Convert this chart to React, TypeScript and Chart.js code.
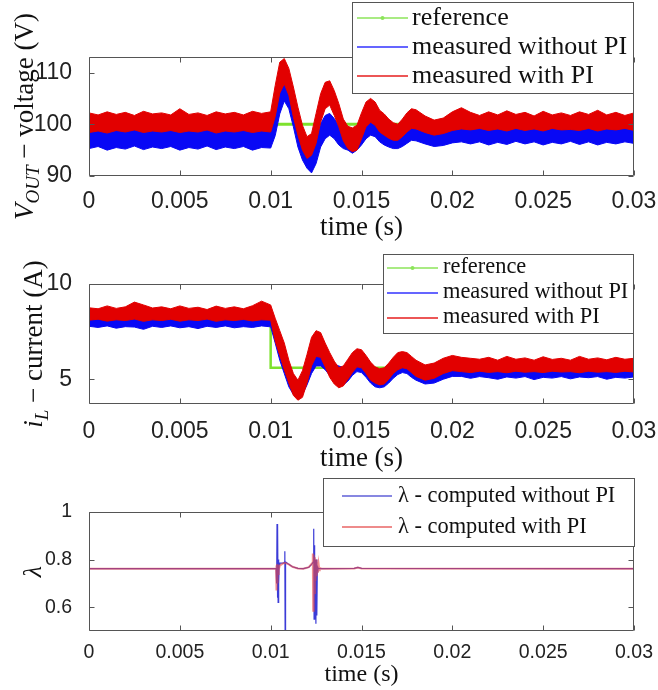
import React, { useEffect, useRef } from 'react';
import { Chart, registerables } from 'chart.js';

Chart.register(...registerables);

// ---------------- data ----------------
const T = [0, 0.0005, 0.001, 0.0015, 0.002, 0.0025, 0.003, 0.0035, 0.004, 0.0045, 0.005, 0.0055, 0.006, 0.0065, 0.007, 0.0075, 0.008, 0.0085, 0.009, 0.0095, 0.01,
  0.01025, 0.0105, 0.01075, 0.011, 0.01125, 0.0115, 0.01175, 0.012, 0.01225, 0.0125, 0.01275, 0.013, 0.01325, 0.0135, 0.01375, 0.014, 0.01425, 0.0145, 0.01475, 0.015, 0.01525, 0.0155, 0.01575, 0.016, 0.01625, 0.0165, 0.01675, 0.017, 0.01725, 0.0175, 0.01775, 0.018,
  0.0185, 0.019, 0.0195, 0.02, 0.0205, 0.021, 0.0215, 0.022, 0.0225, 0.023, 0.0235, 0.024, 0.0245, 0.025, 0.0255, 0.026, 0.0265, 0.027, 0.0275, 0.028, 0.0285, 0.029, 0.0295, 0.03];

// Output voltage (V): upper / lower envelopes of the noisy measured traces
const V_PI_HI = [102.2, 101.8, 102.4, 101.9, 102.3, 101.7, 102.5, 102.0, 102.2, 101.8, 103.0, 101.9, 102.2, 101.7, 102.4, 102.0, 102.3, 101.8, 102.5, 102.1, 102.4,
  107.5, 112.0, 112.7, 110.8, 107.2, 103.3, 99.8, 97.6, 98.2, 102.1, 105.9, 108.1, 108.4, 106.5, 104.0, 101.0, 99.6, 99.3, 99.8, 102.2, 104.3, 105.0, 104.3, 102.7, 102.0, 101.0, 100.3, 100.0, 101.0, 102.2, 103.0, 102.8,
  101.6, 100.8, 101.2, 102.4, 103.2, 102.3, 101.7, 102.4, 101.8, 102.6, 101.9, 102.3, 101.6, 102.5, 101.8, 102.2, 101.7, 102.4, 101.9, 102.7, 101.8, 102.3, 101.7, 102.2];
const V_PI_LO = [98.4, 98.7, 98.3, 98.8, 98.5, 98.9, 98.4, 98.7, 98.5, 98.8, 98.4, 98.7, 98.5, 98.9, 98.3, 98.7, 98.5, 98.8, 98.4, 98.7, 98.5,
  101.5, 106.0, 107.8, 105.6, 101.4, 97.9, 95.0, 93.4, 94.0, 96.3, 100.4, 103.0, 103.7, 101.7, 99.5, 96.8, 95.3, 94.7, 95.0, 97.2, 99.5, 100.4, 99.8, 98.5, 97.9, 97.3, 96.9, 96.9, 97.6, 98.5, 99.2, 99.1,
  98.4, 97.9, 98.2, 98.8, 99.1, 98.9, 99.2, 98.8, 99.1, 98.7, 99.2, 98.8, 99.1, 98.7, 99.2, 98.9, 99.0, 98.8, 99.2, 98.7, 99.1, 98.9, 99.2, 98.8];
const V_NOPI_HI = [99.9, 99.6, 100.1, 99.7, 100.0, 99.5, 100.2, 99.8, 100.0, 99.6, 100.1, 99.7, 100.0, 99.5, 100.2, 99.8, 100.0, 99.6, 100.1, 99.8, 100.0,
  104.5, 108.1, 108.8, 107.3, 104.6, 101.1, 98.2, 95.6, 95.0, 96.9, 100.1, 101.7, 102.1, 101.1, 99.8, 98.8, 98.2, 98.0, 98.5, 99.8, 101.1, 101.4, 101.1, 100.1, 99.5, 98.8, 98.4, 98.3, 98.8, 99.4, 99.9, 99.8,
  99.3, 98.8, 99.0, 99.6, 99.9, 99.6, 99.4, 99.8, 99.5, 99.9, 99.4, 99.7, 99.5, 99.9, 99.4, 99.8, 99.5, 99.9, 99.4, 99.8, 99.5, 99.7, 99.4, 99.8];
const V_NOPI_LO = [95.3, 95.7, 95.0, 95.5, 95.2, 95.8, 95.1, 95.6, 95.3, 95.7, 95.0, 95.5, 95.2, 95.8, 95.1, 95.6, 95.3, 95.7, 95.0, 95.5, 95.4,
  97.8, 102.0, 104.5, 103.0, 99.5, 95.6, 93.1, 91.5, 90.6, 92.4, 95.6, 97.2, 97.9, 97.2, 96.0, 95.3, 95.0, 94.4, 95.0, 96.0, 97.2, 97.9, 97.6, 96.6, 96.0, 95.6, 95.3, 95.3, 95.7, 96.3, 96.9, 96.8,
  96.2, 95.7, 95.9, 96.4, 96.6, 96.2, 96.6, 96.0, 96.5, 96.1, 96.7, 96.2, 96.6, 96.0, 96.5, 96.2, 96.7, 96.1, 96.6, 96.0, 96.5, 96.2, 96.6, 96.3];
const V_REF_T = [0, 0.03];
const V_REF = [100, 100];

// Inductor current (A)
const I_PI_HI = [8.75, 8.7, 8.85, 8.72, 8.8, 9.05, 8.9, 8.74, 8.8, 8.7, 8.85, 8.72, 8.78, 8.66, 8.84, 8.72, 8.8, 8.7, 8.86, 9.1, 8.9,
  8.2, 7.55, 6.9, 6.0, 5.3, 4.95, 5.45, 6.3, 7.2, 7.55, 7.45, 6.9, 6.4, 5.95, 5.6, 5.7, 6.05, 6.4, 6.6, 6.55, 6.25, 5.9, 5.65, 5.55, 5.6, 5.85, 6.15, 6.4, 6.45, 6.4, 6.2, 6.0,
  5.75, 5.85, 6.1, 6.25, 6.15, 6.1, 6.05, 6.15, 6.0, 6.2, 6.05, 6.12, 6.0, 6.18, 6.04, 6.1, 6.0, 6.2, 6.05, 6.12, 6.02, 6.15, 6.05, 6.1];
const I_PI_LO = [8.1, 8.15, 8.05, 8.12, 8.08, 8.16, 8.04, 8.12, 8.08, 8.15, 8.05, 8.12, 8.08, 8.16, 8.04, 8.12, 8.08, 8.14, 8.06, 8.12, 8.1,
  7.0, 6.25, 5.5, 4.8, 4.15, 3.9, 4.05, 4.8, 5.7, 6.2, 6.15, 5.65, 5.1, 4.75, 4.55, 4.65, 5.0, 5.35, 5.65, 5.6, 5.3, 4.95, 4.8, 4.7, 4.75, 5.0, 5.3, 5.5, 5.6, 5.55, 5.35, 5.15,
  4.95, 5.05, 5.3, 5.45, 5.4, 5.35, 5.42, 5.36, 5.4, 5.34, 5.42, 5.37, 5.4, 5.35, 5.42, 5.38, 5.4, 5.34, 5.42, 5.37, 5.4, 5.36, 5.42, 5.38];
const I_NOPI_HI = [8.55, 8.5, 8.58, 8.52, 8.55, 8.5, 8.58, 8.52, 8.55, 8.5, 8.58, 8.52, 8.55, 8.5, 8.58, 8.52, 8.55, 8.5, 8.58, 8.52, 8.5,
  7.9, 7.2, 6.5, 5.8, 5.2, 4.9, 5.1, 5.7, 6.4, 6.8, 6.7, 6.4, 6.1, 5.8, 5.7, 5.6, 5.8, 6.1, 6.3, 6.25, 6.0, 5.7, 5.45, 5.35, 5.4, 5.6, 5.9, 6.1, 6.15, 6.1, 5.95, 5.75,
  5.5, 5.55, 5.8, 5.95, 5.9, 5.85, 5.9, 5.85, 5.92, 5.86, 5.9, 5.84, 5.92, 5.86, 5.9, 5.85, 5.92, 5.86, 5.9, 5.84, 5.92, 5.86, 5.9, 5.86];
const I_NOPI_LO = [7.78, 7.72, 7.8, 7.68, 7.76, 7.74, 7.62, 7.78, 7.72, 7.8, 7.7, 7.76, 7.66, 7.78, 7.72, 7.8, 7.7, 7.76, 7.72, 7.8, 7.75,
  6.9, 6.0, 5.3, 4.6, 4.2, 4.0, 4.2, 4.7, 5.3, 5.7, 5.7, 5.5, 5.2, 4.9, 4.8, 4.7, 4.9, 5.2, 5.4, 5.35, 5.1, 4.8, 4.6, 4.55, 4.6, 4.8, 5.05, 5.25, 5.35, 5.3, 5.1, 4.95,
  4.75, 4.8, 5.0, 5.15, 5.15, 5.05, 5.14, 5.08, 5.0, 5.12, 5.06, 5.14, 4.98, 5.1, 5.06, 5.14, 5.02, 5.12, 5.08, 5.14, 5.0, 5.1, 5.06, 5.12];
const I_REF_T = [0, 0.01, 0.01, 0.03];
const I_REF = [8.4, 8.4, 5.6, 5.6];

// Computed lambda
const LAM_NOPI_T = [0, 0.0103, 0.01033, 0.01035, 0.01037, 0.01039, 0.01041, 0.01043, 0.01045, 0.01047, 0.0105, 0.0107, 0.01076, 0.01078, 0.0108, 0.01082, 0.0109, 0.011, 0.0112, 0.0115, 0.0118, 0.0121, 0.01226,
  0.01234, 0.01237, 0.01239, 0.01241, 0.01243, 0.01246, 0.01249, 0.01251, 0.01254, 0.01257, 0.0126, 0.0128, 0.0146, 0.0148, 0.015, 0.03];
const LAM_NOPI = [0.762, 0.762, 0.70, 0.95, 0.64, 0.95, 0.62, 0.80, 0.70, 0.78, 0.785, 0.785, 0.79, 0.835, 0.40, 0.79, 0.786, 0.78, 0.77, 0.763, 0.762, 0.768, 0.78,
  0.79, 0.93, 0.55, 0.86, 0.60, 0.80, 0.53, 0.80, 0.565, 0.77, 0.762, 0.762, 0.763, 0.767, 0.763, 0.762];
const LAM_PI_T = [0, 0.0103, 0.01031, 0.01033, 0.01035, 0.01037, 0.01039, 0.01041, 0.01043, 0.01045, 0.0105, 0.0107, 0.0108, 0.011, 0.0112, 0.0115, 0.0118, 0.0121, 0.01228,
  0.01232, 0.01234, 0.01237, 0.0124, 0.01243, 0.01246, 0.0125, 0.01253, 0.01257, 0.0126, 0.01264, 0.01268, 0.0127, 0.0128, 0.0146, 0.0148, 0.015, 0.03];
const LAM_PI = [0.762, 0.762, 0.775, 0.67, 0.78, 0.70, 0.78, 0.74, 0.775, 0.755, 0.775, 0.785, 0.786, 0.78, 0.77, 0.763, 0.762, 0.768, 0.785,
  0.826, 0.585, 0.82, 0.66, 0.81, 0.71, 0.80, 0.73, 0.79, 0.745, 0.78, 0.755, 0.765, 0.762, 0.763, 0.767, 0.763, 0.762];

const X_TICKS = [0, 0.005, 0.01, 0.015, 0.02, 0.025, 0.03];
const V_TICKS = [90, 100, 110];
const I_TICKS = [5, 10];
const LAM_TICKS = [0.6, 0.8, 1];

const LEGEND_MEAS = ['reference', 'measured without PI', 'measured with PI'];
const LEGEND_LAM = ['\u03BB - computed without PI', '\u03BB - computed with PI'];
const X_TITLE = 'time (s)';

// ---------------- styles ----------------
const RED = 'rgb(226,0,0)';
const BLUE = 'rgb(8,8,245)';
const GREEN = 'rgb(125,226,45)';
const LAM_BLUE = 'rgb(60,60,215)';
const LAM_RED = 'rgba(232,70,70,0.6)';
const FRAME = '#555';
const SANS = '"Liberation Sans", Arial, sans-serif';
const SERIF = '"Liberation Serif", "Times New Roman", serif';

type Piece = { text: string; italic?: boolean; sub?: boolean };
type LegendItem = { label: string; color: string; width: number; marker?: boolean };
type Panel = {
  top: number; height: number; padTop: number; chartBottom: number;
  yMin: number; yMax: number; yTicks: number[];
  tickFont: number; xTickPad: number; titleFont: number; titlePad: number;
  yTitle: Piece[]; yTitleSize: number; yTitleX: number;
  legend: { x1: number; y1: number; x2: number; y2: number; lx1: number; lx2: number; tx: number; base: number; step: number; lineOff: number; font: number; items: LegendItem[] };
  datasets: any[];
};

const xy = (xs: number[], ys: number[]) => xs.map((x, i) => ({ x, y: ys[i] }));

function bandSets(piHi: number[], piLo: number[], noHi: number[], noLo: number[], refT: number[], ref: number[], refW: number) {
  return [
    { label: LEGEND_MEAS[2], data: xy(T, piHi), borderColor: RED, backgroundColor: RED, borderWidth: 1, fill: '+1' },
    { label: LEGEND_MEAS[2], data: xy(T, piLo), borderColor: RED, borderWidth: 1, fill: false },
    { label: LEGEND_MEAS[1], data: xy(T, noHi), borderColor: BLUE, backgroundColor: BLUE, borderWidth: 1, fill: '+1' },
    { label: LEGEND_MEAS[1], data: xy(T, noLo), borderColor: BLUE, borderWidth: 1, fill: false },
    { label: LEGEND_MEAS[0], data: xy(refT, ref), borderColor: GREEN, borderWidth: refW, fill: false },
  ];
}

const MEAS_LEGEND_ITEMS: LegendItem[] = [
  { label: LEGEND_MEAS[0], color: 'rgb(140,228,90)', width: 1.4, marker: true },
  { label: LEGEND_MEAS[1], color: 'rgb(50,50,255)', width: 1.6 },
  { label: LEGEND_MEAS[2], color: 'rgb(230,30,30)', width: 1.4 },
];

const PANELS: Panel[] = [
  {
    top: 0, height: 248, padTop: 57, chartBottom: 176,
    yMin: 90, yMax: 113, yTicks: V_TICKS,
    tickFont: 23, xTickPad: 4, titleFont: 27, titlePad: 4,
    yTitle: [{ text: 'V', italic: true }, { text: 'OUT', italic: true, sub: true }, { text: ' \u2212 voltage (V)' }],
    yTitleSize: 27, yTitleX: 33,
    legend: { x1: 352, y1: 2, x2: 634, y2: 94, lx1: 357, lx2: 408, tx: 412, base: 25, step: 29, lineOff: 7, font: 26, items: MEAS_LEGEND_ITEMS },
    datasets: bandSets(V_PI_HI, V_PI_LO, V_NOPI_HI, V_NOPI_LO, V_REF_T, V_REF, 3),
  },
  {
    top: 248, height: 230, padTop: 36, chartBottom: 156,
    yMin: 3.7, yMax: 10, yTicks: I_TICKS,
    tickFont: 23, xTickPad: 6, titleFont: 27, titlePad: 3,
    yTitle: [{ text: 'i', italic: true }, { text: 'L', italic: true, sub: true }, { text: ' \u2212 current (A)' }],
    yTitleSize: 27, yTitleX: 42,
    legend: { x1: 383, y1: 6, x2: 634, y2: 86, lx1: 387, lx2: 438, tx: 443, base: 25, step: 25, lineOff: 5, font: 22.4, items: MEAS_LEGEND_ITEMS },
    datasets: bandSets(I_PI_HI, I_PI_LO, I_NOPI_HI, I_NOPI_LO, I_REF_T, I_REF, 2.5),
  },
  {
    top: 472, height: 218, padTop: 40, chartBottom: 159,
    yMin: 0.5, yMax: 1, yTicks: LAM_TICKS,
    tickFont: 19.5, xTickPad: 2, titleFont: 24, titlePad: 1,
    yTitle: [{ text: '\u03BB', italic: true }],
    yTitleSize: 26, yTitleX: 41,
    legend: {
      x1: 323, y1: 6, x2: 635, y2: 75, lx1: 342, lx2: 392, tx: 398, base: 30, step: 31, lineOff: 6, font: 22.4,
      items: [
        { label: LEGEND_LAM[0], color: 'rgb(95,95,215)', width: 1.4 },
        { label: LEGEND_LAM[1], color: 'rgb(232,100,100)', width: 1.4 },
      ],
    },
    datasets: [
      { label: LEGEND_LAM[1], data: xy(LAM_PI_T, LAM_PI), borderColor: LAM_RED, borderWidth: 2, fill: false },
      { label: LEGEND_LAM[0], data: xy(LAM_NOPI_T, LAM_NOPI), borderColor: LAM_BLUE, borderWidth: 1.2, fill: false },
    ],
  },
];

function decorPlugin(p: Panel) {
  return {
    id: 'decor',
    afterDraw(chart: any) {
      const ctx: CanvasRenderingContext2D = chart.ctx;
      const a = chart.chartArea;
      const xs = chart.scales.x;
      const ys = chart.scales.y;
      ctx.save();
      // axes box + inward ticks
      const L = Math.round(a.left) + 0.5, R = Math.round(a.right) - 0.5;
      const Tp = Math.round(a.top) + 0.5, B = Math.round(a.bottom) - 0.5;
      ctx.strokeStyle = FRAME;
      ctx.lineWidth = 1;
      ctx.beginPath();
      ctx.rect(L, Tp, R - L, B - Tp);
      for (const v of X_TICKS) {
        const px = Math.round(xs.getPixelForValue(v)) + 0.5;
        ctx.moveTo(px, B); ctx.lineTo(px, B - 5);
        ctx.moveTo(px, Tp); ctx.lineTo(px, Tp + 5);
      }
      for (const v of p.yTicks) {
        const py = Math.round(ys.getPixelForValue(v)) + 0.5;
        ctx.moveTo(L, py); ctx.lineTo(L + 5, py);
        ctx.moveTo(R, py); ctx.lineTo(R - 5, py);
      }
      ctx.stroke();

      // legend
      const lg = p.legend;
      ctx.fillStyle = '#fff';
      ctx.fillRect(lg.x1, lg.y1, lg.x2 - lg.x1, lg.y2 - lg.y1);
      ctx.strokeStyle = FRAME;
      ctx.lineWidth = 1;
      ctx.strokeRect(lg.x1 + 0.5, lg.y1 + 0.5, lg.x2 - lg.x1 - 1, lg.y2 - lg.y1 - 1);
      lg.items.forEach((it, i) => {
        const yb = lg.base + i * lg.step;
        const yl = yb - lg.lineOff;
        ctx.strokeStyle = it.color;
        ctx.lineWidth = it.width;
        ctx.beginPath(); ctx.moveTo(lg.lx1, yl); ctx.lineTo(lg.lx2, yl); ctx.stroke();
        if (it.marker) {
          ctx.fillStyle = it.color;
          ctx.beginPath(); ctx.arc((lg.lx1 + lg.lx2) / 2, yl, 2, 0, Math.PI * 2); ctx.fill();
        }
        ctx.fillStyle = '#111';
        ctx.font = `${lg.font}px ${SERIF}`;
        ctx.textAlign = 'left';
        ctx.textBaseline = 'alphabetic';
        ctx.fillText(it.label, lg.tx, yb);
      });

      // rotated y title with subscript
      const size = p.yTitleSize;
      const fontOf = (pc: Piece) => `${pc.italic ? 'italic ' : ''}${pc.sub ? Math.round(size * 0.7) : size}px ${SERIF}`;
      let total = 0;
      const widths = p.yTitle.map(pc => { ctx.font = fontOf(pc); const w = ctx.measureText(pc.text).width; total += w; return w; });
      ctx.translate(p.yTitleX, (a.top + a.bottom) / 2);
      ctx.rotate(-Math.PI / 2);
      ctx.fillStyle = '#111';
      ctx.textAlign = 'left';
      ctx.textBaseline = 'alphabetic';
      let x = -total / 2;
      p.yTitle.forEach((pc, i) => {
        ctx.font = fontOf(pc);
        ctx.fillText(pc.text, x, pc.sub ? size * 0.22 : 0);
        x += widths[i];
      });
      ctx.restore();
    },
  };
}

function buildConfig(p: Panel): any {
  return {
    type: 'line',
    data: { datasets: p.datasets },
    options: {
      responsive: false,
      animation: false,
      devicePixelRatio: 1,
      events: [],
      elements: { point: { radius: 0 }, line: { tension: 0 } },
      layout: { padding: { top: p.padTop, right: 24, bottom: 0, left: 0 } },
      plugins: { legend: { display: false }, tooltip: { enabled: false }, title: { display: false } },
      scales: {
        x: {
          type: 'linear', min: 0, max: 0.03,
          afterBuildTicks: (s: any) => { s.ticks = X_TICKS.map(v => ({ value: v })); },
          afterFit: (s: any) => { s.height = p.height - p.chartBottom; s.paddingLeft = 0; s.paddingRight = 0; },
          grid: { display: false },
          border: { display: false },
          ticks: {
            autoSkip: false, maxRotation: 0, padding: p.xTickPad, color: '#222',
            font: { family: SANS, size: p.tickFont },
            callback: (v: number) => String(parseFloat(Number(v).toFixed(4))),
          },
          title: { display: true, text: X_TITLE, color: '#111', font: { family: SERIF, size: p.titleFont }, padding: { top: 0, bottom: p.titlePad } },
        },
        y: {
          type: 'linear', min: p.yMin, max: p.yMax,
          afterBuildTicks: (s: any) => { s.ticks = p.yTicks.map(v => ({ value: v })); },
          afterFit: (s: any) => { s.width = 89; s.paddingTop = 0; s.paddingBottom = 0; },
          grid: { display: false },
          border: { display: false },
          ticks: { padding: 9, color: '#222', font: { family: SANS, size: p.tickFont }, callback: (v: number) => String(v) },
        },
      },
    },
    plugins: [decorPlugin(p)],
  };
}

function PanelChart({ p }: { p: Panel }) {
  const ref = useRef<HTMLCanvasElement>(null);
  useEffect(() => {
    const chart = new Chart(ref.current as HTMLCanvasElement, buildConfig(p));
    return () => chart.destroy();
  }, [p]);
  return (
    <canvas
      ref={ref}
      width={658}
      height={p.height}
      style={{ position: 'absolute', left: 0, top: p.top, width: 658, height: p.height }}
    />
  );
}

export default function App() {
  return (
    <div style={{ position: 'absolute', left: 0, top: 0, width: 658, height: 690, background: '#fff', overflow: 'hidden' }}>
      {PANELS.map((p, i) => <PanelChart key={i} p={p} />)}
    </div>
  );
}
